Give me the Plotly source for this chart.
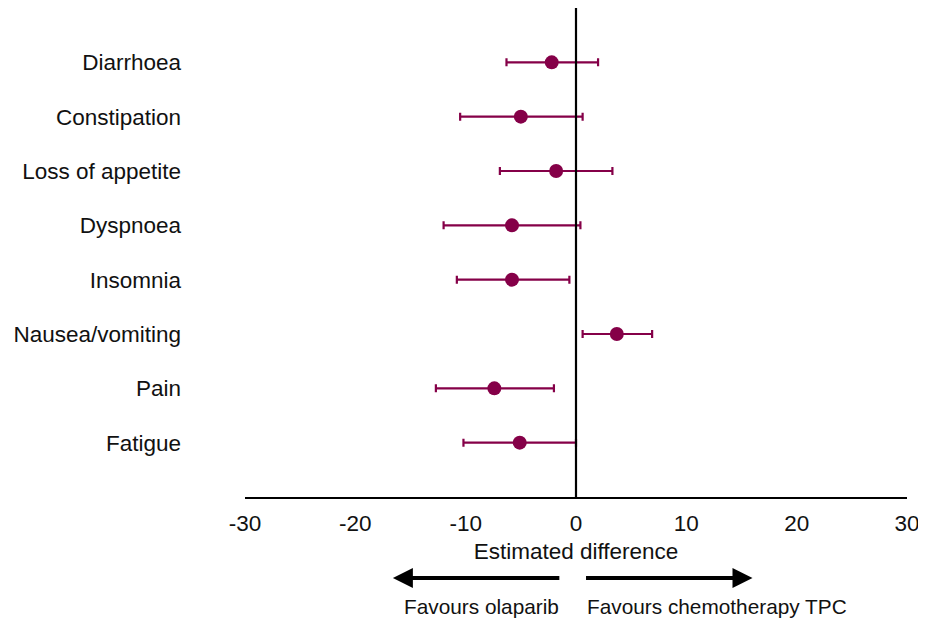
import plotly.graph_objects as go

categories = ["Diarrhoea", "Constipation", "Loss of appetite", "Dyspnoea",
              "Insomnia", "Nausea/vomiting", "Pain", "Fatigue"]
estimate = [-2.2, -5.0, -1.8, -5.8, -5.8, 3.7, -7.4, -5.1]
lower = [-6.3, -10.5, -6.9, -12.0, -10.8, 0.6, -12.7, -10.2]
upper = [2.0, 0.6, 3.3, 0.4, -0.6, 6.9, -2.0, 0.0]
xticks = [-30, -20, -10, 0, 10, 20, 30]

ypos = list(range(len(categories), 0, -1))
color = "#850048"
font = "Liberation Sans, Arial, sans-serif"

fig = go.Figure()
fig.add_trace(go.Scatter(
    x=estimate, y=ypos, mode="markers",
    marker=dict(color=color, size=14),
    error_x=dict(type="data", symmetric=False,
                 array=[u - e for u, e in zip(upper, estimate)],
                 arrayminus=[e - l for e, l in zip(estimate, lower)],
                 color=color, thickness=2.2, width=4),
    showlegend=False, hoverinfo="skip"))

# zero line
fig.add_shape(type="line", x0=0, x1=0, y0=0, y1=9, xref="x", yref="y",
              line=dict(color="black", width=2.2))

fig.update_layout(
    width=918, height=614,
    margin=dict(l=237, r=19, t=0, b=125),
    plot_bgcolor="white", paper_bgcolor="white",
    font=dict(family=font, size=22.5, color="#111111"),
    xaxis=dict(range=[-30, 30], tickvals=xticks, ticktext=[str(v) for v in xticks],
               showgrid=False, zeroline=False, showline=True, linecolor="black",
               linewidth=2.2, ticks="", ticklabelstandoff=5,
               tickfont=dict(size=22.5),
               title=dict(text="Estimated difference", standoff=8, font=dict(size=22.5))),
    yaxis=dict(range=[0, 9], tickvals=ypos, ticktext=categories,
               showgrid=False, zeroline=False, showline=False, ticks="",
               ticklabelstandoff=63, tickfont=dict(size=22.5)),
)

# arrows
fig.add_annotation(x=-16.6, y=-0.1656, xref="x", yref="paper", ax=168, ay=0,
                   axref="pixel", ayref="pixel", text="", showarrow=True,
                   arrowhead=2, arrowsize=1, arrowwidth=4, arrowcolor="black")
fig.add_annotation(x=16.0, y=-0.1656, xref="x", yref="paper", ax=-168, ay=0,
                   axref="pixel", ayref="pixel", text="", showarrow=True,
                   arrowhead=2, arrowsize=1, arrowwidth=4, arrowcolor="black")
fig.add_annotation(x=-1.4, y=-0.223, xref="x", yref="paper", text="Favours olaparib",
                   showarrow=False, xanchor="right", yanchor="middle",
                   font=dict(size=20.8))
fig.add_annotation(x=0.8, y=-0.223, xref="x", yref="paper", text="Favours chemotherapy TPC",
                   showarrow=False, xanchor="left", yanchor="middle",
                   font=dict(size=20.8))

fig.write_html("out.html")
